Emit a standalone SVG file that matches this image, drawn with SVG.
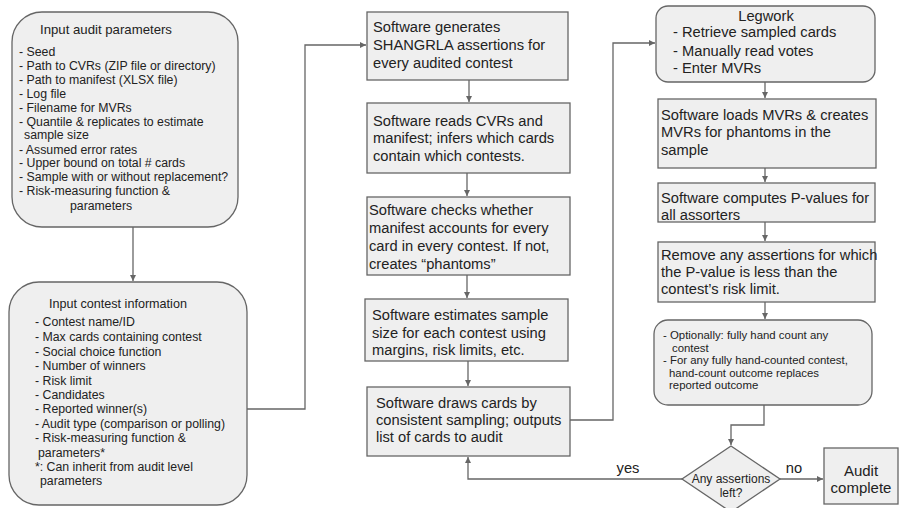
<svg xmlns="http://www.w3.org/2000/svg" width="899" height="508" viewBox="0 0 899 508">
<defs>
<marker id="ah" markerUnits="userSpaceOnUse" markerWidth="8" markerHeight="8" refX="6" refY="3" orient="auto">
<path d="M0,0 L6,3 L0,6 Z" fill="#666"/>
</marker>
<style>
.box{fill:#efefef;stroke:#666;stroke-width:1.3}
.t{font-family:"Liberation Sans",Arial,sans-serif;fill:#222}
.s15{font-size:14.7px}
.s12{font-size:12.3px}
.s118{font-size:11.4px}
.c{stroke:#666;stroke-width:1.3;fill:none}
.a{marker-end:url(#ah)}
</style>
</defs>
<rect width="899" height="508" fill="#fff"/>
<g id="connectors">
<path class="c a" d="M133,227 V281"/>
<path class="c a" d="M247,409 H305 V45 H366"/>
<path class="c a" d="M469,80 V102"/>
<path class="c a" d="M467,173 V196"/>
<path class="c a" d="M467,275 V298"/>
<path class="c a" d="M468,361 V386"/>
<path class="c a" d="M570,420 H613 V43 H655"/>
<path class="c a" d="M765,82 V98"/>
<path class="c a" d="M765,168 V182"/>
<path class="c a" d="M765,222 V241"/>
<path class="c a" d="M765,302 V319"/>
<path class="c a" d="M764,405 V425 H731 V445"/>
<path class="c a" d="M682,479 H468 V457"/>
<path class="c a" d="M780,479 H823"/>
<text class="t s15" x="628" y="473" text-anchor="middle">yes</text>
<text class="t s15" x="794" y="473" text-anchor="middle">no</text>
</g>
<g id="input-audit-parameters">
<rect class="box" x="12" y="12" width="226" height="215" rx="30" ry="30"/>
<text class="t" x="40" y="34" font-size="13.2px">Input audit parameters</text>
<g class="t s12">
<text x="19" y="56">- Seed</text>
<text x="19" y="70">- Path to CVRs (ZIP file or directory)</text>
<text x="19" y="84">- Path to manifest (XLSX file)</text>
<text x="19" y="98">- Log file</text>
<text x="19" y="112">- Filename for MVRs</text>
<text x="19" y="125.5">- Quantile &amp; replicates to estimate</text>
<text x="24" y="139">sample size</text>
<text x="19" y="153.5">- Assumed error rates</text>
<text x="19" y="167">- Upper bound on total # cards</text>
<text x="19" y="181">- Sample with or without replacement?</text>
<text x="19" y="195">- Risk-measuring function &amp;</text>
<text x="70" y="209.5">parameters</text>
</g>
</g>
<g id="input-contest-information">
<rect class="box" x="9" y="282" width="238" height="223" rx="30" ry="30"/>
<text class="t" x="49" y="308" font-size="12.6px">Input contest information</text>
<g class="t s12">
<text x="35" y="326">- Contest name/ID</text>
<text x="35" y="341">- Max cards containing contest</text>
<text x="35" y="355.5">- Social choice function</text>
<text x="35" y="370">- Number of winners</text>
<text x="35" y="384.5">- Risk limit</text>
<text x="35" y="399">- Candidates</text>
<text x="35" y="413">- Reported winner(s)</text>
<text x="35" y="428">- Audit type (comparison or polling)</text>
<text x="35" y="442">- Risk-measuring function &amp;</text>
<text x="38" y="457">parameters*</text>
<text x="35" y="471">*: Can inherit from audit level</text>
<text x="40" y="485">parameters</text>
</g>
</g>
<g id="generate-assertions">
<rect class="box" x="367" y="12" width="201" height="68"/>
<g class="t s15">
<text x="373" y="32">Software generates</text>
<text x="373" y="50">SHANGRLA assertions for</text>
<text x="373" y="67.5">every audited contest</text>
</g>
</g>
<g id="read-cvrs">
<rect class="box" x="367" y="103" width="203" height="70"/>
<g class="t s15">
<text x="373" y="125.5">Software reads CVRs and</text>
<text x="373" y="143">manifest; infers which cards</text>
<text x="373" y="161">contain which contests.</text>
</g>
</g>
<g id="check-manifest">
<rect class="box" x="367" y="197" width="203" height="78"/>
<g class="t s15">
<text x="369" y="215">Software checks whether</text>
<text x="369" y="233">manifest accounts for every</text>
<text x="369" y="251">card in every contest. If not,</text>
<text x="369" y="269">creates “phantoms”</text>
</g>
</g>
<g id="estimate-sample-size">
<rect class="box" x="365" y="299" width="203" height="62"/>
<g class="t s15">
<text x="372" y="320">Software estimates sample</text>
<text x="372" y="338">size for each contest using</text>
<text x="372" y="355">margins, risk limits, etc.</text>
</g>
</g>
<g id="draw-cards">
<rect class="box" x="367" y="387" width="203" height="69"/>
<g class="t s15">
<text x="376" y="408">Software draws cards by</text>
<text x="376" y="425">consistent sampling; outputs</text>
<text x="376" y="442">list of cards to audit</text>
</g>
</g>
<g id="legwork">
<rect class="box" x="656" y="6" width="219" height="76" rx="12" ry="12"/>
<g class="t s15">
<text x="766" y="21" text-anchor="middle">Legwork</text>
<text x="673" y="37">- Retrieve sampled cards</text>
<text x="673" y="55.5">- Manually read votes</text>
<text x="673" y="73">- Enter MVRs</text>
</g>
</g>
<g id="load-mvrs">
<rect class="box" x="658" y="99" width="218" height="69"/>
<g class="t s15">
<text x="661" y="120">Software loads MVRs &amp; creates</text>
<text x="661" y="137">MVRs for phantoms in the</text>
<text x="661" y="155">sample</text>
</g>
</g>
<g id="compute-pvalues">
<rect class="box" x="658" y="183" width="217" height="39"/>
<g class="t s15">
<text x="661" y="203">Software computes P-values for</text>
<text x="661" y="220">all assorters</text>
</g>
</g>
<g id="remove-assertions">
<rect class="box" x="658" y="242" width="217" height="60"/>
<g class="t s15">
<text x="661" y="260">Remove any assertions for which</text>
<text x="661" y="277">the P-value is less than the</text>
<text x="661" y="294">contest’s risk limit.</text>
</g>
</g>
<g id="hand-count">
<rect class="box" x="654" y="320" width="218" height="85" rx="14" ry="14"/>
<g class="t s118">
<text x="663" y="339">- Optionally: fully hand count any</text>
<text x="672" y="351.6">contest</text>
<text x="663" y="364.2">- For any fully hand-counted contest,</text>
<text x="669" y="376.8">hand-count outcome replaces</text>
<text x="669" y="389.4">reported outcome</text>
</g>
</g>
<g id="any-assertions-left">
<polygon class="box" points="731,446 780,479 731,512 682,479"/>
<g class="t" font-size="12px">
<text x="731" y="483" text-anchor="middle">Any assertions</text>
<text x="731" y="497" text-anchor="middle">left?</text>
</g>
</g>
<g id="audit-complete">
<rect class="box" x="824" y="448" width="74" height="56"/>
<g class="t" font-size="15px">
<text x="861" y="476" text-anchor="middle">Audit</text>
<text x="861" y="493" text-anchor="middle">complete</text>
</g>
</g>
</svg>
